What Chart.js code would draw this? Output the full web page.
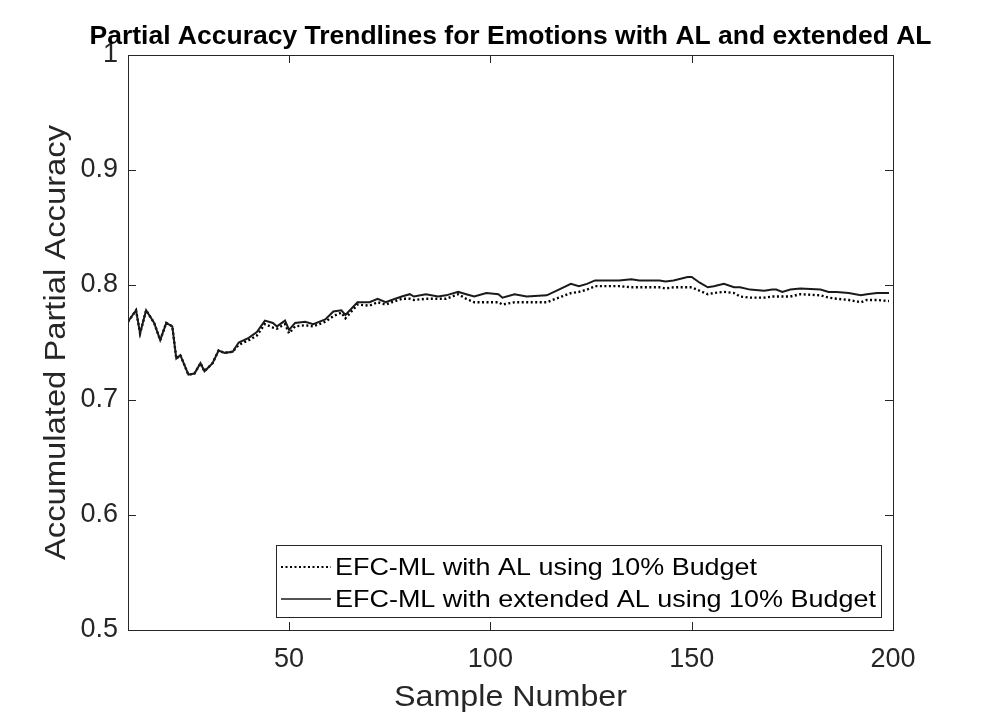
<!DOCTYPE html>
<html>
<head>
<meta charset="utf-8">
<script src="https://cdn.jsdelivr.net/npm/chart.js@4.4.1/dist/chart.umd.min.js"></script>
<style>
  html, body { margin: 0; padding: 0; background: #fff; }
  #chart { display: block; }
</style>
</head>
<body>
<canvas id="chart" width="988" height="721"></canvas>
<script>
// sample numbers
var sampleX = [10, 12, 13, 14.5, 16.5, 18, 19.5, 21, 22, 23, 25, 26.5, 28, 29, 31, 32.5, 34, 36,
  37.5, 40, 42, 44, 46, 47, 49, 50, 51.5, 54, 56, 59, 61, 63, 64, 67, 70, 72, 74, 75.5, 78, 80,
  81, 84, 87, 89, 92, 94, 96, 99, 102, 103, 106, 109, 114, 117, 120, 122, 124, 126, 129, 132,
  135, 137, 142, 143.5, 145.5, 149, 150, 152, 154, 155.5, 158, 160.5, 162, 164.5, 168, 170,
  171, 172.5, 174.5, 177, 182, 184, 186, 189, 192, 193.5, 196, 199];

// EFC-ML with AL (dotted)
var accAL = [0.768, 0.778, 0.758, 0.778, 0.767, 0.752, 0.767, 0.764, 0.736, 0.739, 0.722, 0.723,
  0.732, 0.725, 0.732, 0.743, 0.741, 0.742,
  0.748, 0.752, 0.756, 0.766, 0.763, 0.762, 0.766, 0.758, 0.764, 0.765, 0.764, 0.768, 0.773, 0.776,
  0.771, 0.783, 0.782, 0.785, 0.783, 0.785, 0.788, 0.788,
  0.787, 0.788, 0.788, 0.788, 0.792, 0.788, 0.785, 0.785, 0.785, 0.783, 0.785, 0.785, 0.785, 0.789,
  0.793, 0.794, 0.796, 0.799, 0.799, 0.799,
  0.798, 0.798, 0.798, 0.797, 0.798, 0.798, 0.798, 0.795, 0.792, 0.793, 0.794, 0.793, 0.790, 0.789,
  0.789, 0.790, 0.790, 0.790, 0.790, 0.792, 0.791, 0.789, 0.788, 0.787, 0.785, 0.787, 0.787, 0.786];

// EFC-ML with extended AL (solid)
var accExtAL = [0.768, 0.778, 0.758, 0.778, 0.767, 0.752, 0.767, 0.764, 0.736, 0.739, 0.722, 0.723,
  0.732, 0.725, 0.732, 0.743, 0.741, 0.742,
  0.750, 0.754, 0.759, 0.769, 0.767, 0.764, 0.769, 0.761, 0.767, 0.768, 0.766, 0.770, 0.777, 0.778,
  0.774, 0.785, 0.785, 0.788, 0.785, 0.787, 0.790, 0.792,
  0.790, 0.792, 0.790, 0.791, 0.794, 0.792, 0.790, 0.793, 0.792, 0.789, 0.792, 0.790, 0.791, 0.796,
  0.801, 0.799, 0.801, 0.804, 0.804, 0.804,
  0.805, 0.804, 0.804, 0.803, 0.804, 0.807, 0.807, 0.802, 0.798, 0.799, 0.801, 0.798, 0.798, 0.796,
  0.795, 0.796, 0.796, 0.794, 0.796, 0.797, 0.796, 0.794, 0.794, 0.793, 0.791, 0.792, 0.793, 0.793];

var xTicks = [50, 100, 150, 200];
var yTicks = [0.5, 0.6, 0.7, 0.8, 0.9, 1];
var seriesLabels = ['EFC-ML with AL using 10% Budget', 'EFC-ML with extended AL using 10% Budget'];
var chartTitle = 'Partial Accuracy Trendlines for Emotions with AL and extended AL';
var xTitle = 'Sample Number';
var yTitle = 'Accumulated Partial Accuracy';

var axisColor = '#262626';
var fontFamily = '"Liberation Sans", Arial, sans-serif';

function toPoints(ys) {
  return sampleX.map(function (x, i) { return { x: x, y: ys[i] }; });
}

// draw text squeezed/stretched to a given width
function fitText(ctx, text, x, y, width, font, color, align, rotate) {
  ctx.save();
  ctx.font = font;
  var w = ctx.measureText(text).width;
  ctx.translate(x, y);
  if (rotate) ctx.rotate(-Math.PI / 2);
  ctx.scale(width / w, 1);
  ctx.textAlign = align || 'center';
  ctx.textBaseline = 'middle';
  ctx.fillStyle = color;
  ctx.fillText(text, 0, 0);
  ctx.restore();
}

var matlabFrame = {
  id: 'matlabFrame',
  afterDraw: function (chart) {
    var ctx = chart.ctx;
    var a = chart.chartArea;
    var sx = chart.scales.x, sy = chart.scales.y;
    var tl = 8;

    ctx.save();
    ctx.strokeStyle = axisColor;
    ctx.lineWidth = 1;
    ctx.strokeRect(Math.round(a.left) + 0.5, Math.round(a.top) + 0.5,
      Math.round(a.right - a.left), Math.round(a.bottom - a.top));

    ctx.beginPath();
    xTicks.forEach(function (v) {
      var px = Math.round(sx.getPixelForValue(v)) + 0.5;
      ctx.moveTo(px, a.bottom); ctx.lineTo(px, a.bottom - tl);
      ctx.moveTo(px, a.top); ctx.lineTo(px, a.top + tl);
    });
    yTicks.forEach(function (v) {
      var py = Math.round(sy.getPixelForValue(v)) + 0.5;
      ctx.moveTo(a.left, py); ctx.lineTo(a.left + tl, py);
      ctx.moveTo(a.right, py); ctx.lineTo(a.right - tl, py);
    });
    ctx.stroke();

    // legend box
    var lx = 276, ly = 545, lw = 605, lh = 72;
    ctx.fillStyle = '#fff';
    ctx.fillRect(lx, ly, lw, lh);
    ctx.strokeStyle = axisColor;
    ctx.strokeRect(lx + 0.5, ly + 0.5, lw, lh);

    var rows = [567, 599];
    var widths = [422, 541];
    chart.data.datasets.forEach(function (ds, i) {
      ctx.save();
      ctx.strokeStyle = ds.borderColor;
      ctx.lineWidth = i === 0 ? 2 : 1.3;
      ctx.setLineDash(ds.borderDash || []);
      ctx.beginPath();
      ctx.moveTo(281, rows[i]);
      ctx.lineTo(331, rows[i]);
      ctx.stroke();
      ctx.restore();
      fitText(ctx, ds.label, 335, rows[i] + 1, widths[i], '24px ' + fontFamily, '#000', 'left');
    });
    ctx.restore();

    fitText(ctx, chartTitle, (a.left + a.right) / 2, 37, 842, 'bold 25px ' + fontFamily, '#000');
    fitText(ctx, xTitle, (a.left + a.right) / 2, 698, 233, '30px ' + fontFamily, axisColor);
    fitText(ctx, yTitle, 57, (a.top + a.bottom) / 2, 435, '30px ' + fontFamily, axisColor, 'center', true);
  }
};

new Chart(document.getElementById('chart').getContext('2d'), {
  type: 'line',
  data: {
    datasets: [{
      label: seriesLabels[0],
      data: toPoints(accAL),
      borderColor: '#000',
      borderWidth: 2.4,
      borderDash: [2, 2.5],
      pointRadius: 0,
      tension: 0,
      order: 1
    }, {
      label: seriesLabels[1],
      data: toPoints(accExtAL),
      borderColor: '#1a1a1a',
      borderWidth: 2,
      pointRadius: 0,
      tension: 0,
      order: 0
    }]
  },
  options: {
    responsive: false,
    animation: false,
    layout: { padding: { left: 0, top: 55, right: 95, bottom: 0 } },
    plugins: {
      legend: { display: false },
      title: { display: false },
      tooltip: { enabled: false }
    },
    scales: {
      x: {
        type: 'linear',
        min: 10,
        max: 200,
        afterBuildTicks: function (s) { s.ticks = xTicks.map(function (v) { return { value: v }; }); },
        afterFit: function (s) { s.height = 91; },
        grid: { display: false, drawTicks: false },
        border: { display: false },
        ticks: {
          padding: 13,
          color: axisColor,
          maxRotation: 0,
          font: { family: fontFamily, size: 27 }
        }
      },
      y: {
        min: 0.5,
        max: 1,
        afterBuildTicks: function (s) { s.ticks = yTicks.map(function (v) { return { value: v }; }); },
        afterFit: function (s) { s.width = 128; },
        grid: { display: false, drawTicks: false },
        border: { display: false },
        ticks: {
          padding: 10,
          color: axisColor,
          font: { family: fontFamily, size: 27 },
          callback: function (v) { return String(Math.round(v * 10) / 10); }
        }
      }
    }
  },
  plugins: [matlabFrame]
});
</script>
</body>
</html>
